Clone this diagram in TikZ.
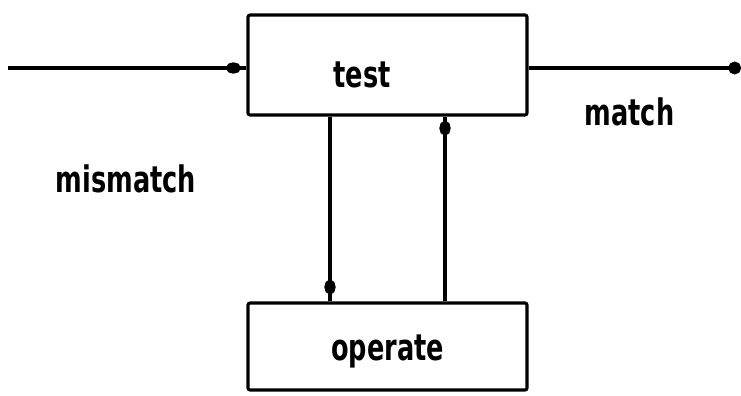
\documentclass[tikz,border=0pt]{standalone}
\usepackage{fontspec}
\usepackage{tikz}
\usetikzlibrary{arrows.meta}
\newfontfamily\diagfont[FakeStretch=0.7]{DejaVu Sans}

\begin{document}
\begin{tikzpicture}[x=0.025cm, y=-0.025cm,
    box/.style={draw, line width=2.2pt, rounded corners=1.5pt, inner sep=0pt},
    lbl/.style={font=\diagfont\bfseries\fontsize{26}{30}\selectfont, inner sep=0pt, anchor=base},
    flow/.style={line width=3.2pt},
    blob/.style={-{Ellipse[length=10.5pt,width=8pt,sep=0pt]Rectangle[length=#1,width=3.2pt,sep=0pt]}}]
  \useasboundingbox (0,0) rectangle (741,395);
  \node (test) [box, minimum width=6.975cm, minimum height=2.5cm] at (387.5,65) {};
  \node (operate) [box, minimum width=6.975cm, minimum height=2.175cm] at (387.5,346.5) {};
  \node (testlbl) [lbl] at (362,87) {test};
  \node (operatelbl) [lbl] at (387.5,360) {operate};
  \node (match) [lbl] at (629.5,125) {match};
  \node (mismatch) [lbl] at (126,192) {mismatch};
  \coordinate (in) at (8,68);
  \coordinate (out) at (741,68);
  \draw [flow, blob=4pt] (in) -- (in -| test.west);
  \draw [flow, -{Circle[length=9pt]}] (out -| test.east) -- (out);
  \draw [flow, blob=5pt] (test.south -| 330,0) -- (operate.north -| 330,0);
  \draw [flow, blob=3pt] (operate.north -| 445,0) -- (test.south -| 445,0);
\end{tikzpicture}
\end{document}
